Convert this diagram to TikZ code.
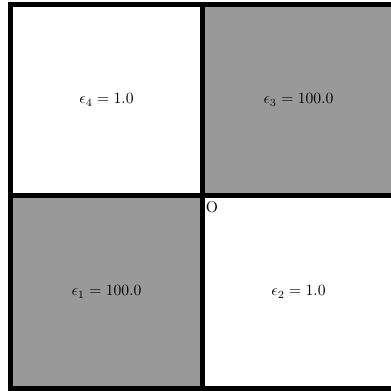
\documentclass[tikz,border=0pt]{standalone}
\begin{document}
\begin{tikzpicture}[x=0.64pt,y=-0.64pt,
  cellgray/.style={fill=black!40},
  wall/.style={line width=3.2pt,black},
  lab/.style={font=\normalsize}]
\useasboundingbox (0,0) rectangle (391,391);
\clip (0,0) rectangle (391,391);
% fills
\fill[white] (0,0) rectangle (391,391);
\fill[cellgray] (202.5,4.5) rectangle (394.5,195.5);
\fill[cellgray] (10.5,195.5) rectangle (202.5,388);
% walls
\draw[wall] (10.5,4.5) rectangle (394.5,388);
\draw[wall] (202.5,4.5) -- (202.5,388);
\draw[wall] (10.5,195.5) -- (394.5,195.5);
% labels
\node[lab] (e4) at (106.5,100) {$\epsilon_4 = 1.0$};
\node[lab] (e3) at (298.5,100) {$\epsilon_3 = 100.0$};
\node[lab] (e1) at (106.5,292) {$\epsilon_1 = 100.0$};
\node[lab] (e2) at (298.5,292) {$\epsilon_2 = 1.0$};
\coordinate (orig) at (202.5,195.5);
\node[anchor=north west,inner sep=0pt] (O) at (205.5,201.5) {O};
\end{tikzpicture}
\end{document}
